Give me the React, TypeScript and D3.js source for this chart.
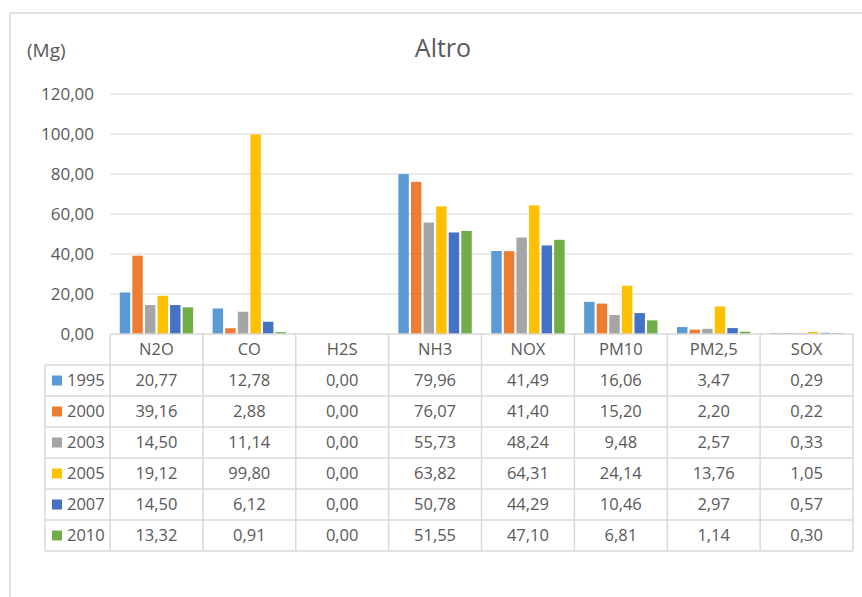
import React from "react";
import * as d3 from "d3";

const categories = ["N2O", "CO", "H2S", "NH3", "NOX", "PM10", "PM2,5", "SOX"];
const years = ["1995", "2000", "2003", "2005", "2007", "2010"];
const v1995 = [20.77, 12.78, 0.0, 79.96, 41.49, 16.06, 3.47, 0.29];
const v2000 = [39.16, 2.88, 0.0, 76.07, 41.4, 15.2, 2.2, 0.22];
const v2003 = [14.5, 11.14, 0.0, 55.73, 48.24, 9.48, 2.57, 0.33];
const v2005 = [19.12, 99.8, 0.0, 63.82, 64.31, 24.14, 13.76, 1.05];
const v2007 = [14.5, 6.12, 0.0, 50.78, 44.29, 10.46, 2.97, 0.57];
const v2010 = [13.32, 0.91, 0.0, 51.55, 47.1, 6.81, 1.14, 0.3];
const yTicks = [0, 20, 40, 60, 80, 100, 120];
const colors = ["#5B9BD5", "#ED7D31", "#A5A5A5", "#FFC000", "#4472C4", "#70AD47"];
const title = "Altro";
const unitLabel = "(Mg)";

const series = [v1995, v2000, v2003, v2005, v2007, v2010];

const fmt = (v: number) => v.toFixed(2).replace(".", ",");

export default function App() {
  const W = 862, H = 597;
  const left = 110, right = 853, top = 94, base = 334;
  const rowH = 31;
  const legendLeft = 45;
  const font = "'Open Sans', 'Noto Sans', sans-serif";
  const textColor = "#595959";
  const gridColor = "#D9D9D9";
  const fs = 16.5;

  const x = d3.scaleBand<string>().domain(categories).range([left, right]).paddingInner(0).paddingOuter(0);
  const bw = x.bandwidth();
  const inner = d3.scaleBand<string>().domain(years).range([bw * 0.105, bw * 0.895]).paddingInner(0.17).paddingOuter(0);
  const y = d3.scaleLinear().domain([0, 120]).range([base, top]);

  const tableBottom = base + rowH * (years.length + 1);
  const barH = (v: number) => Math.max(base - y(v), v > 0 ? 1 : 0);

  return (
    <svg width={W} height={H} style={{ position: "absolute", left: 0, top: 0, background: "#fff" }}>
      <rect x={0} y={0} width={W} height={H} fill="#fff" />
      <line x1={10} y1={13} x2={W} y2={13} stroke={gridColor} strokeWidth={1.5} />
      <line x1={10} y1={13} x2={10} y2={H} stroke={gridColor} strokeWidth={1.5} />

      <text x={443} y={57} textAnchor="middle" fontFamily={font} fontSize={25} fill={textColor}>{title}</text>
      <text x={27} y={57} fontFamily={font} fontSize={19} fill={textColor}>{unitLabel}</text>

      {yTicks.map((t) => (
        <g key={t}>
          {t > 0 && <line x1={left} x2={right} y1={y(t)} y2={y(t)} stroke={gridColor} strokeWidth={1} />}
          <text x={94} y={y(t)} dy="0.36em" textAnchor="end" fontFamily={font} fontSize={17} fill={textColor}>{fmt(t)}</text>
        </g>
      ))}

      {categories.map((c, ci) => (
        <g key={c} transform={`translate(${x(c)},0)`}>
          {series.map((s, si) => (
            <rect key={si} x={inner(years[si])} y={base - barH(s[ci])} width={inner.bandwidth()} height={barH(s[ci])} fill={colors[si]} />
          ))}
        </g>
      ))}

      <line x1={left} x2={right} y1={base} y2={base} stroke={gridColor} strokeWidth={1.5} />
      {years.map((yr, ri) => (
        <line key={"h" + yr} x1={legendLeft} x2={right} y1={base + rowH * (ri + 1)} y2={base + rowH * (ri + 1)} stroke={gridColor} strokeWidth={1.5} />
      ))}
      <line x1={legendLeft} x2={right} y1={tableBottom} y2={tableBottom} stroke={gridColor} strokeWidth={1.5} />
      <line x1={legendLeft} x2={legendLeft} y1={base + rowH} y2={tableBottom} stroke={gridColor} strokeWidth={1.5} />
      {categories.map((c) => (
        <line key={"v" + c} x1={x(c)} x2={x(c)} y1={base} y2={tableBottom} stroke={gridColor} strokeWidth={1.5} />
      ))}
      <line x1={right} x2={right} y1={base} y2={tableBottom} stroke={gridColor} strokeWidth={1.5} />

      {categories.map((c) => (
        <text key={"c" + c} x={(x(c) as number) + bw / 2} y={base + rowH / 2} dy="0.36em" textAnchor="middle" fontFamily={font} fontSize={fs} fill={textColor}>{c}</text>
      ))}

      {years.map((yr, ri) => {
        const cy = base + rowH * (ri + 1) + rowH / 2;
        return (
          <g key={"r" + yr}>
            <rect x={52} y={cy - 5} width={10} height={10} fill={colors[ri]} />
            <text x={67} y={cy} dy="0.36em" fontFamily={font} fontSize={fs} fill={textColor}>{yr}</text>
            {categories.map((c, ci) => (
              <text key={c} x={(x(c) as number) + bw / 2} y={cy} dy="0.36em" textAnchor="middle" fontFamily={font} fontSize={fs} fill={textColor}>{fmt(series[ri][ci])}</text>
            ))}
          </g>
        );
      })}
    </svg>
  );
}
